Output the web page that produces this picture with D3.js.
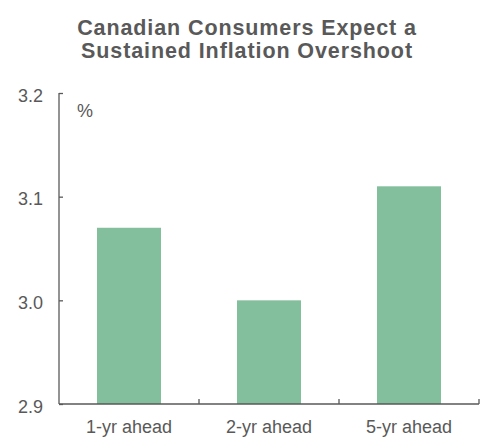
<!DOCTYPE html>
<html>
<head>
<meta charset="utf-8">
<script src="https://cdn.jsdelivr.net/npm/d3@7"></script>
<style>
  body { margin: 0; background: #fff; }
  text { font-family: "Liberation Sans", Arial, sans-serif; fill: #595959; }
</style>
</head>
<body>
<div id="chart"></div>
<script>
// data
const categories = ['1-yr ahead', '2-yr ahead', '5-yr ahead'];
const values = [3.07, 3.0, 3.11];
const yTicks = [2.9, 3.0, 3.1, 3.2];
const titleLines = ['Canadian Consumers Expect a', 'Sustained Inflation Overshoot'];

const W = 485, H = 439;
const margin = { top: 93, right: 6, bottom: 35, left: 59 };
const width = W - margin.left - margin.right;
const height = H - margin.top - margin.bottom;
const axisColor = '#595959';

const svg = d3.select('#chart').append('svg').attr('width', W).attr('height', H);

// title
svg.append('text')
  .attr('x', 247).attr('y', 35)
  .attr('text-anchor', 'middle')
  .style('font-weight', 'bold').style('font-size', '21.5px')
  .style('letter-spacing', '0.9px')
  .selectAll('tspan').data(titleLines).enter().append('tspan')
  .attr('x', 247).attr('dy', (d, i) => i === 0 ? 0 : 23)
  .text((d) => d);

const group = svg.append('g')
  .attr('transform', 'translate(' + margin.left + ',' + margin.top + ')');

const xScale = d3.scaleBand().domain(categories).range([0, width]).paddingInner(0.543).paddingOuter(0.2715);
const xBand = d3.scaleBand().domain(categories).range([0, width]);
const yScale = d3.scaleLinear().domain([2.9, 3.2]).range([height, 0]);

// bars
group.selectAll('rect.bar').data(values).enter().append('rect')
  .attr('class', 'bar')
  .attr('x', (d, i) => xScale(categories[i]))
  .attr('width', xScale.bandwidth())
  .attr('y', (d) => yScale(d))
  .attr('height', (d) => yScale(2.9) - yScale(d))
  .attr('fill', '#84bf9d');

// y axis
const yAxis = d3.axisRight(yScale).tickValues(yTicks).tickSize(4).tickFormat(d3.format('.1f'));
const yAxisGroup = group.append('g').call(yAxis);
yAxisGroup.select('.domain').attr('stroke', axisColor).attr('stroke-width', 1.3).attr('d', 'M0,0V' + height);
yAxisGroup.selectAll('.tick line').attr('stroke', axisColor).attr('stroke-width', 1.3);
yAxisGroup.selectAll('.tick text')
  .attr('x', -16).attr('dy', '0.45em').attr('text-anchor', 'end')
  .style('font-size', '18px').attr('fill', axisColor);

// x axis (ticks at band boundaries, pointing up)
const xAxisGroup = group.append('g').attr('transform', 'translate(0,' + height + ')');
xAxisGroup.append('line')
  .attr('x1', 0).attr('x2', width)
  .attr('stroke', axisColor).attr('stroke-width', 1.3);
xAxisGroup.selectAll('line.xtick').data(categories).enter().append('line')
  .attr('class', 'xtick')
  .attr('x1', (d) => xBand(d) + xBand.bandwidth()).attr('x2', (d) => xBand(d) + xBand.bandwidth())
  .attr('y1', 0).attr('y2', -5)
  .attr('stroke', axisColor).attr('stroke-width', 1.3);
xAxisGroup.selectAll('text.xlabel').data(categories).enter().append('text')
  .attr('class', 'xlabel')
  .attr('x', (d) => xBand(d) + xBand.bandwidth() / 2)
  .attr('y', 29)
  .attr('text-anchor', 'middle')
  .style('font-size', '18px')
  .text((d) => d);

// unit label
group.append('text').attr('x', 18).attr('y', 24).style('font-size', '18px').text('%');
</script>
</body>
</html>
